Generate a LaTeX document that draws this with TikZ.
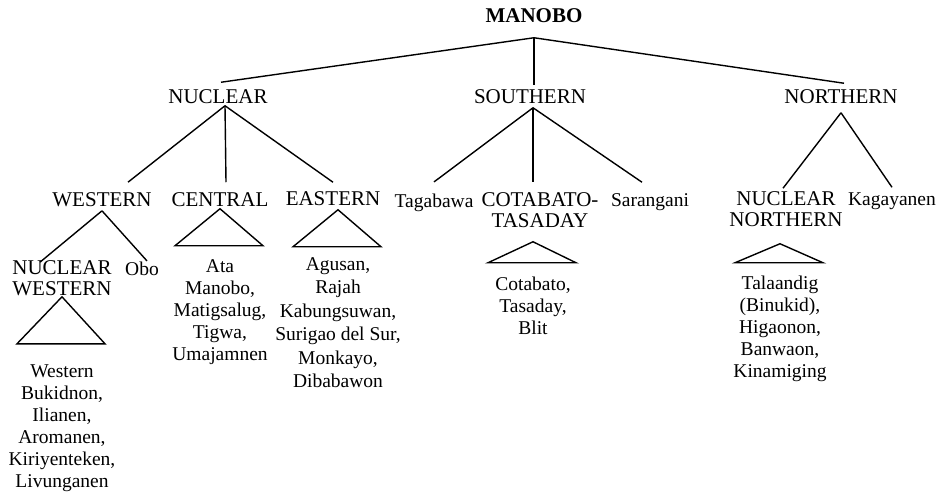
\documentclass[tikz,border=0pt]{standalone}
\usepackage{fontspec}
\setmainfont{Liberation Serif}
\usetikzlibrary{positioning}

\begin{document}
\begin{tikzpicture}[x=1pt, y=-1pt, node distance=81pt, line width=1.4pt,
  grp/.style={inner sep=1pt, align=center, font=\fontsize{21}{21}\selectfont},
  lang/.style={inner sep=1pt, align=center, font=\fontsize{19.5}{22}\selectfont}]

  \useasboundingbox (0,0) rectangle (940,500);

  \node[grp, font=\bfseries\fontsize{21}{21}\selectfont] (root) at (534,16) {MANOBO};

  % first level
  \node[grp] (nuc) [below of=root, xshift=-316pt] {NUCLEAR};
  \node[grp] (sou) [below of=root, xshift=-4pt] {SOUTHERN};
  \node[grp] (nor) [below of=root, xshift=307pt] {NORTHERN};

  % second level
  \node[grp]  (wes)  [below of=nuc, xshift=-116pt, yshift=-22pt] {WESTERN};
  \node[grp]  (cen)  [below of=nuc, xshift=2pt, yshift=-22pt] {CENTRAL};
  \node[grp]  (eas)  [below of=nuc, xshift=115pt, yshift=-21pt] {EASTERN};
  \node[lang] (tag)  [below of=sou, xshift=-96pt, yshift=-24.5pt] {Tagabawa};
  \node[grp]  (cot)  [below of=sou, xshift=10pt, yshift=-32.5pt] {COTABATO-\\TASADAY};
  \node[lang] (sar)  [below of=sou, xshift=120pt, yshift=-24.5pt] {Sarangani};
  \node[grp]  (nnor) [below of=nor, xshift=-55pt, yshift=-31.5pt] {NUCLEAR\\NORTHERN};
  \node[lang] (kag)  [below of=nor, xshift=51pt, yshift=-23.5pt] {Kagayanen};

  % third level
  \node[grp]  (nwes) [below of=wes, xshift=-40pt, yshift=2.5pt] {NUCLEAR\\WESTERN};
  \node[lang] (obo)  [below of=wes, xshift=40pt, yshift=12.5pt] {Obo};

  % language lists
  \node[lang] (cenl)  [below=49pt of cen] {Ata\\Manobo,\\Matigsalug,\\Tigwa,\\Umajamnen};
  \node[lang, font=\fontsize{19.5}{23.5}\selectfont] (easl) [below=48pt of eas, xshift=5pt]
    {Agusan,\\Rajah\\Kabungsuwan,\\Surigao del Sur,\\Monkayo,\\Dibabawon};
  \node[lang] (nwl)   [below=65pt of nwes] {Western\\Bukidnon,\\Ilianen,\\Aromanen,\\Kiriyenteken,\\Livunganen};
  \node[lang] (cotl)  [below=46pt of cot, xshift=-7pt] {Cotabato,\\Tasaday,\\Blit};
  \node[lang] (nnorl) [below=46pt of nnor, xshift=-6pt] {Talaandig\\(Binukid),\\Higaonon,\\Banwaon,\\Kinamiging};

  % triangles over the lists
  \draw ([yshift=49pt]cenl.north) -- ([xshift=-45pt,yshift=12pt]cenl.north) -- ([xshift=43pt,yshift=12pt]cenl.north) -- cycle;
  \draw ([yshift=46pt]easl.north) -- ([xshift=-45pt,yshift=9pt]easl.north) -- ([xshift=43pt,yshift=9pt]easl.north) -- cycle;
  \draw ([yshift=66pt]nwl.north) -- ([xshift=-45pt,yshift=19pt]nwl.north) -- ([xshift=43pt,yshift=19pt]nwl.north) -- cycle;
  \draw ([yshift=34pt]cotl.north) -- ([xshift=-45pt,yshift=13pt]cotl.north) -- ([xshift=43pt,yshift=13pt]cotl.north) -- cycle;
  \draw ([yshift=31pt]nnorl.north) -- ([xshift=-45pt,yshift=12pt]nnorl.north) -- ([xshift=43pt,yshift=12pt]nnorl.north) -- cycle;

  % branches
  \path ([yshift=-13pt]root.south) edge ([xshift=3pt,yshift=6pt]nuc.north)
                                   edge ([xshift=4pt,yshift=3pt]sou.north)
                                   edge ([xshift=3pt,yshift=5pt]nor.north)
        ([xshift=7pt]nuc.south) edge ([xshift=26pt,yshift=9pt]wes.north)
                                edge ([xshift=6pt,yshift=9pt]cen.north)
                                edge ([yshift=8pt]eas.north)
        ([xshift=3pt,yshift=-2pt]sou.south) edge ([yshift=10pt]tag.north)
                                            edge ([xshift=-7pt,yshift=9pt]cot.north)
                                            edge ([xshift=-8pt,yshift=10pt]sar.north)
        ([yshift=-7pt]nor.south) edge ([xshift=-3pt,yshift=2pt]nnor.north)
                                 edge ([yshift=4pt]kag.north)
        ([yshift=-2pt]wes.south) edge ([xshift=-22pt,yshift=-3pt]nwes.north)
                                 edge ([xshift=5pt,yshift=-1pt]obo.north);

\end{tikzpicture}
\end{document}
